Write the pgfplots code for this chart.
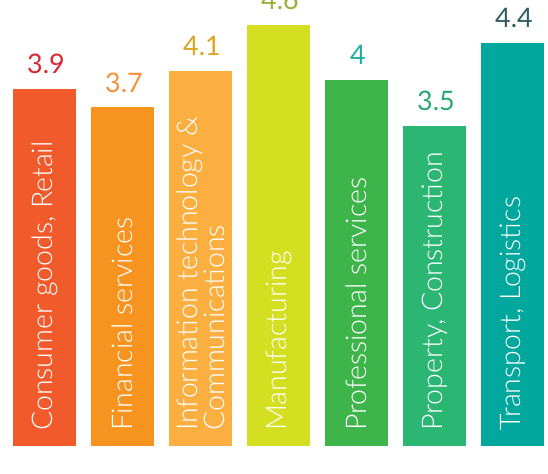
\documentclass[border=0pt]{standalone}
\usepackage{pgfplots}
\pgfplotsset{compat=1.18}
\usepackage{fontspec}
\setmainfont{Lato}
\newfontfamily\lbl{Lato Light}
\definecolor{b1}{HTML}{F15A2B}
\definecolor{b2}{HTML}{F7941F}
\definecolor{b3}{HTML}{FBAF41}
\definecolor{b4}{HTML}{D5DF21}
\definecolor{b5}{HTML}{3DB54A}
\definecolor{b6}{HTML}{2BB673}
\definecolor{b7}{HTML}{00A79D}
\definecolor{t1}{HTML}{D42A34}
\definecolor{t2}{HTML}{F7923A}
\definecolor{t3}{HTML}{DBA520}
\definecolor{t4}{HTML}{9AAE3A}
\definecolor{t5}{HTML}{1AB0A0}
\definecolor{t6}{HTML}{2BA875}
\definecolor{t7}{HTML}{2F5E64}
\pgfplotsset{
  mybar/.style 2 args={ybar, bar width=0.8077, bar shift=0pt, fill=#1, draw=none,
    nodes near coords,
    every node near coord/.append style={font=\fontsize{27}{27}\selectfont, text=#2, anchor=south, inner sep=0pt, yshift=15bp, xshift=1.5bp}}
}
\begin{document}
\begin{tikzpicture}
\useasboundingbox (0,0) rectangle (548bp,474bp);
\begin{axis}[at={(5.5bp,28bp)}, anchor=south west, scale only axis,
  width=546bp, height=446bp, xmin=-0.5, xmax=6.5, ymin=0, ymax=4.874,
  hide axis, clip=false,
  /pgf/number format/assume math mode=true]
\addplot[mybar={b1}{t1}] coordinates {(0,3.9)};
\addplot[mybar={b2}{t2}] coordinates {(1,3.7)};
\addplot[mybar={b3}{t3}] coordinates {(2,4.1)};
\addplot[mybar={b4}{t4}] coordinates {(3,4.6)};
\addplot[mybar={b5}{t5}] coordinates {(4,4.0)};
\addplot[mybar={b6}{t6}] coordinates {(5,3.5)};
\addplot[mybar={b7}{t7}] coordinates {(6,4.4)};
\addplot[draw=none, mark=none, nodes near coords, point meta=explicit symbolic,
  every node near coord/.append style={font=\lbl\fontsize{28.6}{27.5}\selectfont, text=white,
    inner sep=0pt, align=left, yshift=15bp, rotate=90, anchor=west}]
  coordinates {
  (0,0) [Consumer goods, Retail]
  (1,0) [Financial services]
  (2,0) [{Information technology \&\\Communications}]
  (3,0) [Manufacturing]
  (4,0) [Professional services]
  (5,0) [{Property, Construction}]
  (6,0) [{Transport, Logistics}]
};
\end{axis}
\end{tikzpicture}
\end{document}
